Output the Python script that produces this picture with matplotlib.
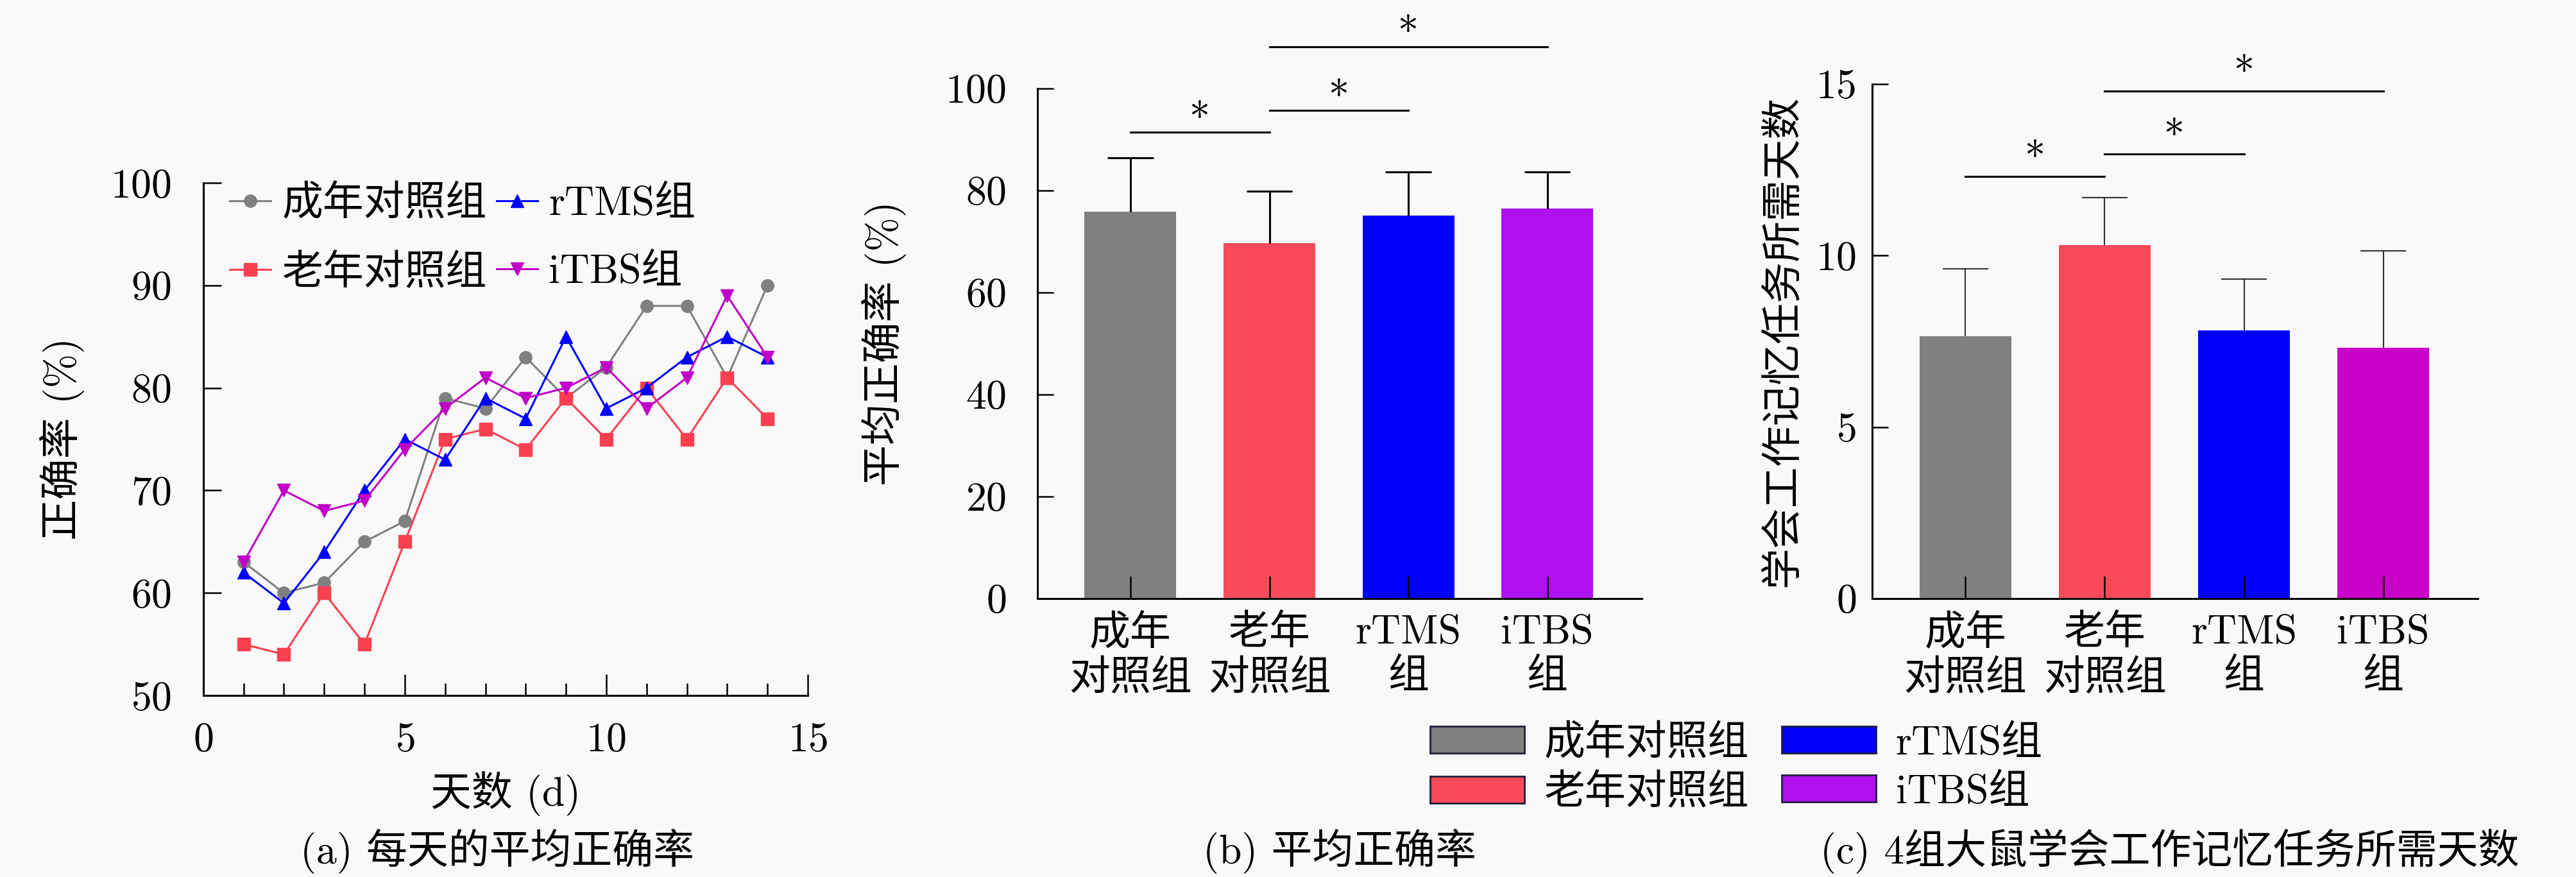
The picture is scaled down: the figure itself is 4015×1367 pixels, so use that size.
import matplotlib
matplotlib.use('Agg')
import matplotlib.pyplot as plt
from matplotlib.patches import Patch

plt.rcParams['font.family'] = ['cmr10', 'Noto Sans CJK SC']
plt.rcParams['mathtext.fontset'] = 'cm'
plt.rcParams['axes.formatter.use_mathtext'] = True
plt.rcParams['font.size'] = 46
plt.rcParams['axes.unicode_minus'] = False

# (a) daily accuracy, days 1..14
days = list(range(1, 15))
adult = [63, 60, 61, 65, 67, 79, 78, 83, 79, 82, 88, 88, 81, 90]
aged = [55, 54, 60, 55, 65, 75, 76, 74, 79, 75, 80, 75, 81, 77]
rtms = [62, 59, 64, 70, 75, 73, 79, 77, 85, 78, 80, 83, 85, 83]
itbs = [63, 70, 68, 69, 74, 78, 81, 79, 80, 82, 78, 81, 89, 83]

groups = ['成年\n对照组', '老年\n对照组', 'rTMS\n组', 'iTBS\n组']
names = ['成年对照组', '老年对照组', 'rTMS组', 'iTBS组']

# (b) mean accuracy and (c) days needed, mean and upper error
acc_mean = [75.8, 69.7, 75.1, 76.5]
acc_err = [10.6, 10.2, 8.5, 7.2]
day_mean = [7.65, 10.30, 7.81, 7.32]
day_err = [1.97, 1.39, 1.50, 2.82]

# significance brackets: (bar from, bar to, height)
sig_b = [(0, 1, 91.4), (1, 2, 95.7), (1, 3, 108.2)]
sig_c = [(0, 1, 12.31), (1, 2, 12.96), (1, 3, 14.8)]

line_cols = ['#808080', '#fa4050', '#0000ff', '#c000c8']
bar_cols_b = ['#808080', '#f94a5a', '#0000ff', '#b010ee']
bar_cols_c = ['#808080', '#f94a5a', '#0000ff', '#c800c8']
bg = '#f9f9f9'


def style(ax):
    for s in ['top', 'right']:
        ax.spines[s].set_visible(False)
    for s in ['left', 'bottom']:
        ax.spines[s].set_linewidth(2.2)
    ax.set_facecolor(bg)
    ax.tick_params(which='both', direction='in', width=1.8)


fig = plt.figure(figsize=(40.16, 13.67), dpi=100, facecolor=bg)

# ---- (a)
ax = fig.add_axes([0.0789, 0.207, 0.2346, 0.5845])
style(ax)
series = [adult, aged, rtms, itbs]
markers = ['o', 's', '^', 'v']
for vals, c, m, lab in zip(series, line_cols, markers, names):
    ax.plot(days, vals, color=c, marker=m, ms=14, lw=2.2, label=lab)
ax.set_xlim(0, 15)
ax.set_ylim(50, 100)
ax.set_xticks([0, 5, 10, 15])
ax.set_xticks(days, minor=True)
ax.set_yticks(range(50, 101, 10))
ax.tick_params(axis='y', length=20, pad=36)
ax.tick_params(axis='x', which='major', length=24, pad=30)
ax.tick_params(axis='x', which='minor', length=14)
ax.set_ylabel('正确率 (%)')
ax.yaxis.set_label_coords(-0.196, 0.5)
ax.set_xlabel('天数 (d)')
ax.xaxis.set_label_coords(0.5, -0.148)
ax.legend(ncol=2, loc='center left', bbox_to_anchor=(0.0435, 0.891),
          frameon=False, borderpad=0, borderaxespad=0, handlelength=1.0,
          handletextpad=0.28, columnspacing=0.23, labelspacing=0.75, numpoints=1)


def bars(rect, mean, err, cols, elw, ecol, sig, ylim, yticks, ypad, star_off):
    ax = fig.add_axes(rect)
    style(ax)
    x = list(range(len(mean)))
    tops = [m + e for m, e in zip(mean, err)]
    ax.bar(x, mean, width=0.66, color=cols)
    ax.vlines(x, mean, tops, color=ecol, lw=elw)
    ax.hlines(tops, [i - 0.165 for i in x], [i + 0.165 for i in x], color=ecol, lw=elw)
    for a, b, h in sig:
        ax.plot([a, b], [h, h], color='k', lw=2.2, clip_on=False)
        ax.annotate('*', xy=((a + b) / 2, h), xytext=(0, star_off),
                    textcoords='offset points', ha='center', va='baseline',
                    annotation_clip=False)
    ax.set_xlim(-0.67, 3.68)
    ax.set_ylim(*ylim)
    ax.set_yticks(yticks)
    ax.set_xticks(x)
    ax.set_xticklabels(groups, linespacing=1.25)
    ax.tick_params(axis='y', length=18, pad=ypad)
    ax.tick_params(axis='x', length=25, pad=18)
    return ax


axb = bars([0.4026, 0.3175, 0.2346, 0.5816], acc_mean, acc_err, bar_cols_b,
           2.2, 'k', sig_b, (0, 100), range(0, 101, 20), 35, 1)
axb.set_ylabel('平均正确率 (%)')
axb.yaxis.set_label_coords(-0.2166, 0.5)

axc = bars([0.7266, 0.3175, 0.2351, 0.5867], day_mean, day_err, bar_cols_c,
           1.5, '#303030', sig_c, (0, 15), [0, 5, 10, 15], 18, 6)
axc.set_ylabel('学会工作记忆任务所需天数')
axc.yaxis.set_label_coords(-0.1155, 0.5)

handles = [Patch(facecolor=c, edgecolor='#1e1e3c', linewidth=2) for c in bar_cols_b]
fig.legend(handles, names, ncol=2, loc='center left', bbox_to_anchor=(0.555, 0.124),
           frameon=False, borderpad=0, borderaxespad=0, handlelength=2.3,
           handleheight=0.63, handletextpad=0.48, columnspacing=0.8, labelspacing=0.28)

fig.text(0.193, 0.029, '(a) 每天的平均正确率', ha='center', va='center')
fig.text(0.520, 0.029, '(b) 平均正确率', ha='center', va='center')
fig.text(0.842, 0.029, '(c) 4组大鼠学会工作记忆任务所需天数', ha='center', va='center')

fig.savefig('out.png', dpi=100, facecolor=bg)
